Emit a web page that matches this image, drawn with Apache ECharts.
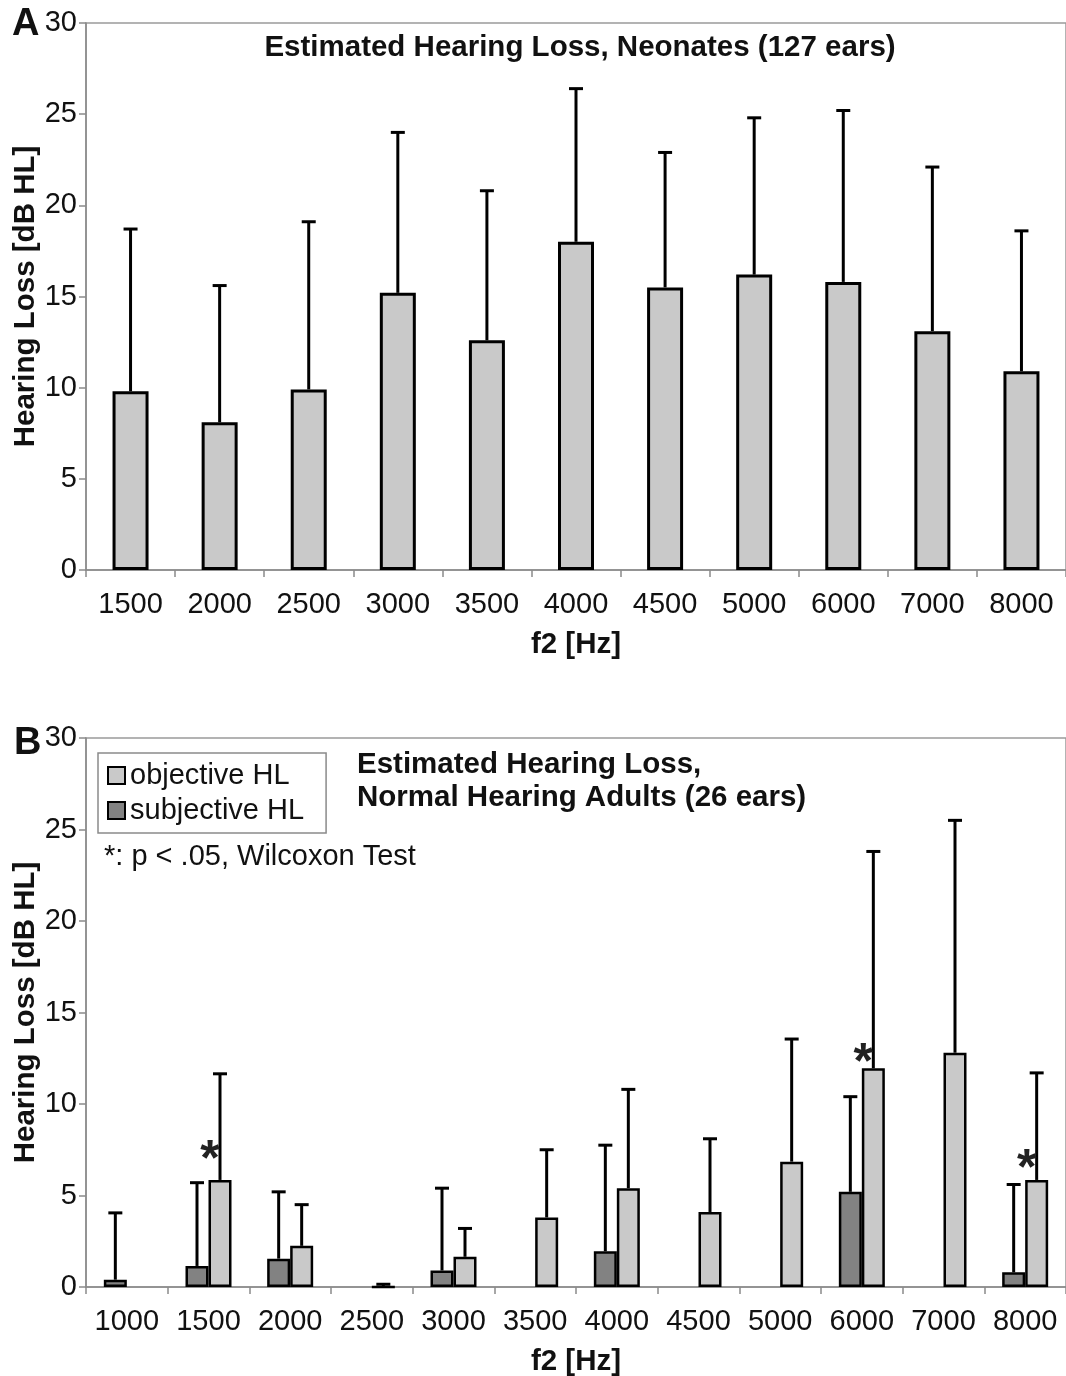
<!DOCTYPE html>
<html>
<head>
<meta charset="utf-8">
<script src="https://cdn.jsdelivr.net/npm/echarts@6/dist/echarts.min.js"></script>
<style>html,body{margin:0;padding:0;background:#fff;}#c{width:1066px;height:1376px;}</style>
</head>
<body>
<div id="c"></div>
<script>
// ---- Panel A data ----
const categoriesA = ['1500','2000','2500','3000','3500','4000','4500','5000','6000','7000','8000'];
const meanA = [9.8, 8.1, 9.9, 15.2, 12.6, 18.0, 15.5, 16.2, 15.8, 13.1, 10.9];
const upperA = [18.7, 15.6, 19.1, 24.0, 20.8, 26.4, 22.9, 24.8, 25.2, 22.1, 18.6];

// ---- Panel B data ----
const categoriesB = ['1000','1500','2000','2500','3000','3500','4000','4500','5000','6000','7000','8000'];
const subjB = [0.4, 1.15, 1.55, null, 0.9, null, 1.95, null, null, 5.2, null, 0.8];
const subjUpperB = [4.05, 5.7, 5.2, null, 5.4, null, 7.75, null, null, 10.4, null, 5.6];
const objB = [null, 5.85, 2.25, 0, 1.65, 3.8, 5.4, 4.1, 6.85, 11.95, 12.8, 5.85];
const objUpperB = [null, 11.65, 4.5, 0.15, 3.2, 7.5, 10.8, 8.1, 13.55, 23.8, 25.5, 11.7];
const starCats = ['1500', '6000', '8000'];
const starY = [7.5, 12.8, 7.0];

const yTicks = [0, 5, 10, 15, 20, 25, 30];

const FONT = "'Liberation Sans', Arial, sans-serif";
const LIGHT = '#c9c9c9', DARK = '#828282';
const FS = 29;

function errData(cats, mean, upper) {
  const out = [];
  cats.forEach((c, i) => { if (upper[i] != null) out.push([i, mean[i] == null ? 0 : mean[i], upper[i]]); });
  return out;
}
function errRender(offset) {
  return function (params, api) {
    const x = api.value(0), m = api.value(1), t = api.value(2);
    const p0 = api.coord([x, m]), p1 = api.coord([x, t]);
    const cx = p0[0] + offset;
    return { type: 'group', children: [
      { type: 'line', shape: { x1: cx, y1: p0[1], x2: cx, y2: p1[1] }, style: { stroke: '#000', lineWidth: 3 } },
      { type: 'line', shape: { x1: cx - 7, y1: p1[1], x2: cx + 7, y2: p1[1] }, style: { stroke: '#000', lineWidth: 3 } }
    ]};
  };
}

function yAxisCfg(gi) {
  return {
    type: 'value', gridIndex: gi, min: 0, max: 30, interval: 5,
    name: 'Hearing Loss [dB HL]', nameLocation: 'middle', nameGap: 45, nameMoveOverlap: false,
    nameTextStyle: { fontFamily: FONT, fontSize: 29.5, fontWeight: 'bold', color: '#111' },
    axisLine: { show: true, lineStyle: { color: '#8a8a8a', width: 1.5 } },
    axisTick: { show: true, length: 7, lineStyle: { color: '#8a8a8a', width: 1.5 } },
    axisLabel: { fontFamily: FONT, fontSize: FS, color: '#111', margin: 9,
      formatter: v => yTicks.indexOf(v) >= 0 ? String(v) : '' },
    splitLine: { show: false }
  };
}
function xAxisCfg(gi, cats) {
  return {
    type: 'category', gridIndex: gi, data: cats,
    name: 'f2 [Hz]', nameLocation: 'middle', nameGap: 60,
    nameTextStyle: { fontFamily: FONT, fontSize: 29.5, fontWeight: 'bold', color: '#111' },
    axisLine: { show: true, lineStyle: { color: '#8a8a8a', width: 1.5 } },
    axisTick: { show: true, length: 7, lineStyle: { color: '#8a8a8a', width: 1.5 } },
    axisLabel: { fontFamily: FONT, fontSize: FS, color: '#111', margin: 20, interval: 0 }
  };
}

const chart = echarts.init(document.getElementById('c'), null, { renderer: 'canvas' });
const option = {
  animation: false,
  backgroundColor: '#fff',
  grid: [
    { left: 86, top: 23, width: 980, height: 547, show: true, borderColor: '#9a9a9a', borderWidth: 1.5,
      backgroundColor: 'transparent', containLabel: false, outerBoundsMode: 'none' },
    { left: 86, top: 738, width: 980, height: 549, show: true, borderColor: '#9a9a9a', borderWidth: 1.5,
      backgroundColor: 'transparent', containLabel: false, outerBoundsMode: 'none' }
  ],
  xAxis: [xAxisCfg(0, categoriesA), xAxisCfg(1, categoriesB)],
  yAxis: [yAxisCfg(0), yAxisCfg(1)],
  legend: {
    data: ['objective HL', 'subjective HL'],
    orient: 'vertical', left: 98, top: 753,
    icon: 'rect',
    itemWidth: 17, itemHeight: 17, itemGap: 6,
    padding: [8, 22, 8, 9],
    borderColor: '#8a8a8a', borderWidth: 1.5,
    itemStyle: { borderColor: '#000', borderWidth: 2 },
    textStyle: { fontFamily: FONT, fontSize: FS, color: '#111' },
    selectedMode: false
  },
  graphic: [
    { type: 'text', x: 12, y: 25, style: { text: 'A', font: 'bold 38px ' + FONT, fill: '#111', textVerticalAlign: 'middle' } },
    { type: 'text', x: 14, y: 744, style: { text: 'B', font: 'bold 38px ' + FONT, fill: '#111', textVerticalAlign: 'middle' } },
    { type: 'text', x: 580, y: 48, style: { text: 'Estimated Hearing Loss, Neonates (127 ears)', font: 'bold 29.5px ' + FONT, fill: '#111', textAlign: 'center', textVerticalAlign: 'middle' } },
    { type: 'text', x: 357, y: 765, style: { text: 'Estimated Hearing Loss,', font: 'bold 29.5px ' + FONT, fill: '#111', textAlign: 'left', textVerticalAlign: 'middle' } },
    { type: 'text', x: 357, y: 798, style: { text: 'Normal Hearing Adults (26 ears)', font: 'bold 29.5px ' + FONT, fill: '#111', textAlign: 'left', textVerticalAlign: 'middle' } },
    { type: 'text', x: 104, y: 857, style: { text: '*: p < .05, Wilcoxon Test', font: FS + 'px ' + FONT, fill: '#111', textAlign: 'left', textVerticalAlign: 'middle' } }
  ],
  series: [
    { name: 'A', type: 'bar', xAxisIndex: 0, yAxisIndex: 0, data: meanA, barWidth: 36,
      itemStyle: { color: LIGHT, borderColor: '#000', borderWidth: 3 } },
    { type: 'custom', xAxisIndex: 0, yAxisIndex: 0, data: errData(categoriesA, meanA, upperA), renderItem: errRender(0), z: 5 },
    { name: 'subjective HL', type: 'bar', xAxisIndex: 1, yAxisIndex: 1, data: subjB, barWidth: 23, barGap: '0%',
      itemStyle: { color: DARK, borderColor: '#000', borderWidth: 2.5 } },
    { name: 'objective HL', type: 'bar', xAxisIndex: 1, yAxisIndex: 1, data: objB, barWidth: 23, barGap: '0%',
      itemStyle: { color: LIGHT, borderColor: '#000', borderWidth: 2.5 } },
    { type: 'custom', xAxisIndex: 1, yAxisIndex: 1, data: errData(categoriesB, subjB, subjUpperB), renderItem: errRender(-11.5), z: 5 },
    { type: 'custom', xAxisIndex: 1, yAxisIndex: 1, data: errData(categoriesB, objB, objUpperB), renderItem: errRender(11.5), z: 5 },
    { type: 'custom', xAxisIndex: 1, yAxisIndex: 1,
      data: starCats.map((c, i) => [categoriesB.indexOf(c), starY[i]]),
      renderItem: function (params, api) {
        const p = api.coord([api.value(0), api.value(1)]);
        return { type: 'text', x: p[0] + 1.5, y: p[1] + 11, style: { text: '*', font: 'bold 50px ' + FONT, fill: '#222', textAlign: 'center', textVerticalAlign: 'middle' } };
      }, z: 6 }
  ]
};
chart.setOption(option);
</script>
</body>
</html>
